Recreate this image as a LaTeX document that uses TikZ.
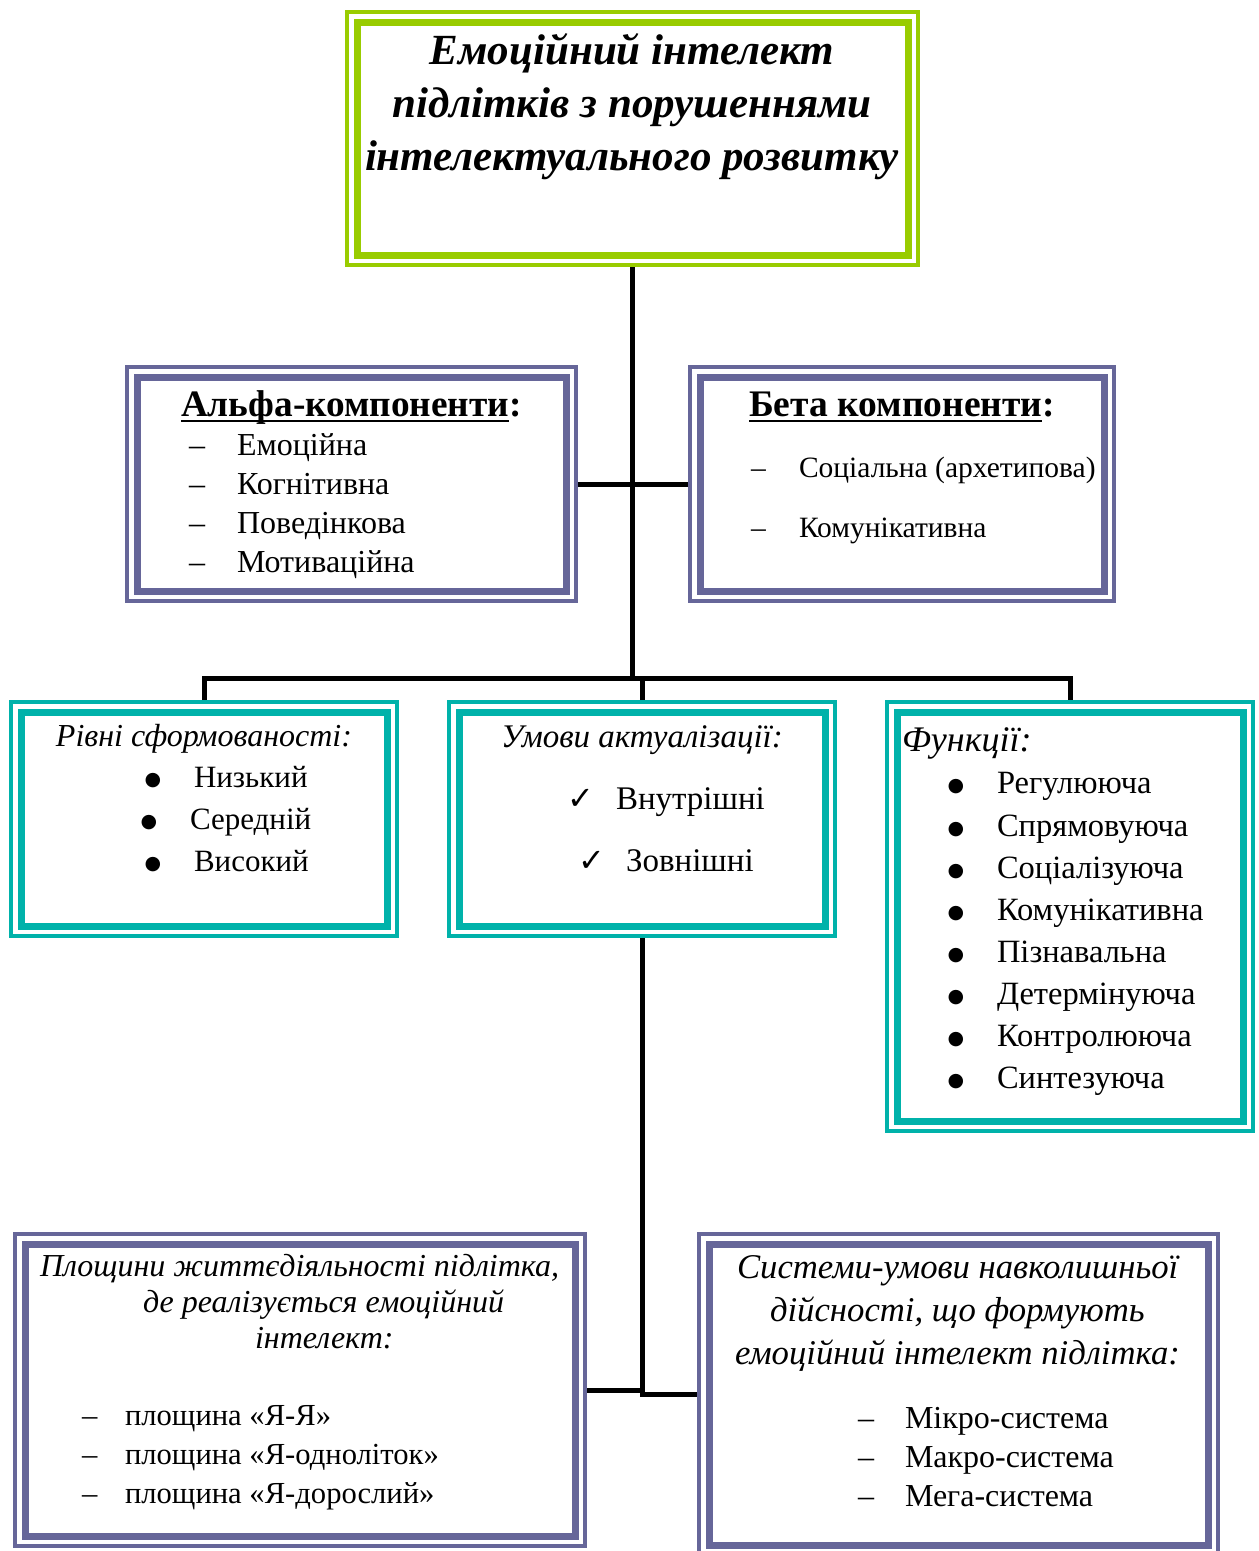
\documentclass[tikz,border=0pt]{standalone}
\usepackage{fontspec}
\setmainfont{Liberation Serif}
\newfontfamily\symfont{DejaVu Sans}
\usetikzlibrary{calc}
\definecolor{lgreen}{RGB}{153,204,0}
\definecolor{vpurple}{RGB}{102,102,153}
\definecolor{tteal}{RGB}{0,178,170}
\newcommand{\fs}[1]{\fontsize{#1}{#1}\selectfont}
\newcommand{\mybox}[6]{%
  \node[draw=#6, line width=4pt, inner sep=0pt, outer sep=2pt, anchor=north west,
        minimum width={#4-#2-4}, minimum height={#5-#3-4}] (#1) at (#2,#3) {};
  \draw[#6, line width=7pt] ({#2+12},{#3+12}) rectangle ({#4-12},{#5-12});
}
\begin{document}
\begin{tikzpicture}[x=1pt,y=-1pt,
  conn/.style={line width=5pt, draw=black},
  txt/.style={anchor=base west, inner sep=0pt, outer sep=0pt},
  ctxt/.style={anchor=base, inner sep=0pt, outer sep=0pt},
  uline/.style={line width=2.5pt},
  bul/.style={anchor=base, inner sep=0pt, outer sep=0pt, font=\fs{19}\symfont},
]
\useasboundingbox[fill=white] (0,0) rectangle (1259,1551);

% boxes
\mybox{title}{345}{10}{920}{267}{lgreen}
\mybox{alpha}{125}{365}{578}{603}{vpurple}
\mybox{beta}{688}{365}{1116}{603}{vpurple}
\mybox{rivni}{9}{700}{399}{938}{tteal}
\mybox{umovy}{447}{700}{837}{938}{tteal}
\mybox{funk}{885}{700}{1255}{1133}{tteal}
\mybox{plosh}{13}{1232}{587}{1548}{vpurple}
\mybox{sys}{697}{1232}{1220}{1557}{vpurple}

% connectors
\coordinate (bar) at (632,678);
\draw[conn] (title.south) -- (title.south |- bar);
\draw[conn] (alpha.east) -- (beta.west);
\draw[conn] (rivni.north) -- (rivni.north |- bar) -| (funk.north);
\draw[conn] (umovy.north) -- (umovy.north |- bar);
\draw[conn] (umovy.south) -- (umovy.south |- sys.west) -- (sys.west);
\draw[conn] (plosh.east) -- (umovy.south |- plosh.east);

% title
\node[ctxt, font=\fs{43}\bfseries\itshape] (t1) at (632,64) {Емоційний інтелект};
\node[ctxt, font=\fs{43}\bfseries\itshape] (t2) at (632,117) {підлітків з порушеннями};
\node[ctxt, font=\fs{43}\bfseries\itshape] (t3) at (632,170) {інтелектуального розвитку};

% alpha
\node[txt, font=\fs{37.3}\bfseries] (ah) at (181,416) {Альфа-компоненти};
\node[txt, font=\fs{37.3}\bfseries] (ahc) at (ah.base east) {:};
\draw[uline] ($(ah.base west)+(0,5)$) -- ($(ah.base east)+(0,5)$);
\foreach \n/\y/\t in {a1/455/Емоційна, a2/494/Когнітивна, a3/533/Поведінкова, a4/572/Мотиваційна}{
  \node[txt, font=\fs{32}] (\n d) at (189,\y) {–};
  \node[txt, font=\fs{32}] (\n) at (237,\y) {\t};
}

% beta
\node[txt, font=\fs{37.5}\bfseries] (bh) at (749,416) {Бета компоненти};
\node[txt, font=\fs{37.5}\bfseries] (bhc) at (bh.base east) {:};
\draw[uline] ($(bh.base west)+(0,5)$) -- ($(bh.base east)+(0,5)$);
\node[txt, font=\fs{29.5}] (b1d) at (751,477) {–};
\node[txt, font=\fs{29.5}] (b1) at (799,477) {Соціальна (архетипова)};
\node[txt, font=\fs{29.5}] (b2d) at (751,537) {–};
\node[txt, font=\fs{29.5}] (b2) at (799,537) {Комунікативна};

% rivni
\node[ctxt, font=\fs{32}\itshape] (rh) at (204,746) {Рівні сформованості:};
\foreach \n/\bx/\tx/\y/\t in {r1/153/194/787/Низький, r2/149/190/829/Середній, r3/153/194/871/Високий}{
  \node[bul] (\n b) at (\bx,\y-2) {●};
  \node[txt, font=\fs{31}] (\n) at (\tx,\y) {\t};
}

% umovy
\node[ctxt, font=\fs{33}\itshape] (uh) at (642,747) {Умови актуалізації:};
\node[txt, font=\fs{32}\symfont] (u1c) at (567,809) {✓};
\node[txt, font=\fs{33}] (u1) at (616,809) {Внутрішні};
\node[txt, font=\fs{32}\symfont] (u2c) at (578,871) {✓};
\node[txt, font=\fs{33}] (u2) at (626,871) {Зовнішні};

% funktsii
\node[txt, font=\fs{36}\itshape] (fh) at (902,751) {Функції:};
\foreach \n/\y/\t in {f1/793/Регулююча, f2/836/Спрямовуюча, f3/878/Соціалізуюча, f4/920/Комунікативна, f5/962/Пізнавальна, f6/1004/Детермінуюча, f7/1046/Контролююча, f8/1088/Синтезуюча}{
  \node[bul] (\n b) at (956,\y-2) {●};
  \node[txt, font=\fs{32.5}] (\n) at (997,\y) {\t};
}

% ploshchyny
\node[txt, font=\fs{32}\itshape] (p1) at (40,1276) {Площини життєдіяльності підлітка,};
\node[txt, font=\fs{32}\itshape] (p2) at (143,1312) {де реалізується емоційний};
\node[txt, font=\fs{32}\itshape] (p3) at (255,1348) {інтелект:};
\foreach \n/\y/\t in {q1/1425/{площина «Я-Я»}, q2/1464/{площина «Я-одноліток»}, q3/1503/{площина «Я-дорослий»}}{
  \node[txt, font=\fs{30.6}] (\n d) at (82,\y) {–};
  \node[txt, font=\fs{30.6}] (\n) at (125,\y) {\t};
}

% systemy
\node[txt, font=\fs{34.7}\itshape] (s1) at (737,1278) {Системи-умови навколишньої};
\node[txt, font=\fs{34.7}\itshape] (s2) at (770,1321) {дійсності, що формують};
\node[txt, font=\fs{34.7}\itshape] (s3) at (735,1364) {емоційний інтелект підлітка:};
\foreach \n/\y/\t in {m1/1428/Мікро-система, m2/1467/Макро-система, m3/1506/Мега-система}{
  \node[txt, font=\fs{32}] (\n d) at (858,\y) {–};
  \node[txt, font=\fs{32}] (\n) at (905,\y) {\t};
}
\end{tikzpicture}
\end{document}
